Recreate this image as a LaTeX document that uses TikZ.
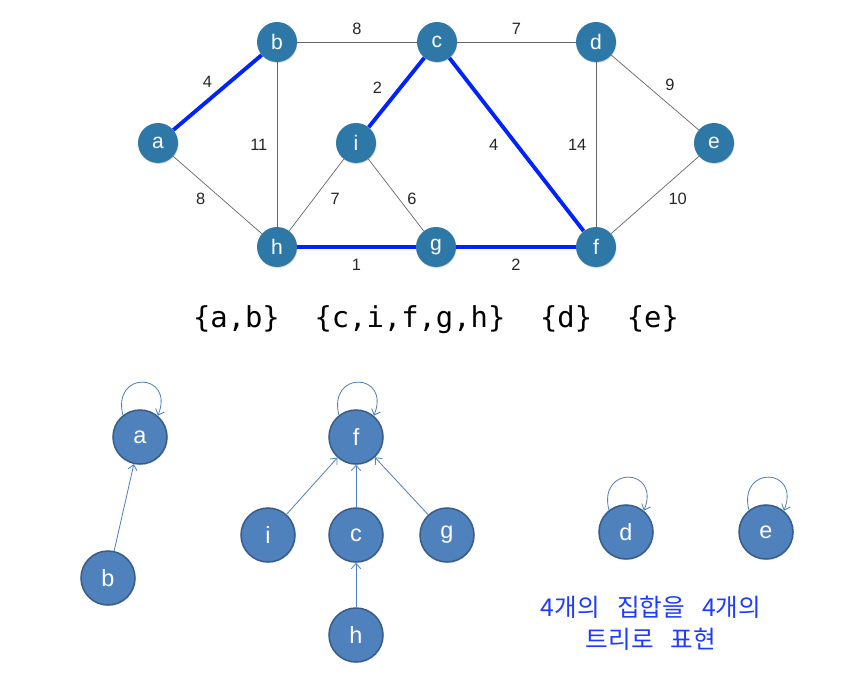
\documentclass[tikz,border=0pt]{standalone}
\usepackage{fontspec}
\setmainfont{Liberation Sans}
\setmonofont{DejaVu Sans Mono}
\newfontfamily\krfont{Noto Sans CJK KR}
\usetikzlibrary{arrows.meta, shadows}
\definecolor{vertexblue}{RGB}{46,120,168}
\definecolor{treefill}{RGB}{79,129,189}
\definecolor{treeline}{RGB}{56,93,138}
\definecolor{mstblue}{RGB}{0,34,255}
\definecolor{noteblue}{RGB}{30,60,255}
\tikzset{
    x=0.03cm, y=0.03cm,       % one unit is one pixel of the picture
    vertex/.style={           % vertices of the weighted graph
        circle,
        inner sep=0pt,
        fill=vertexblue,
        text=white,
        minimum size=1.2cm,
        font=\fontsize{18}{18}\selectfont,
        drop shadow={opacity=0.3, shadow xshift=0.5pt, shadow yshift=-0.8pt}
    },
    treenode/.style={         % vertices of the disjoint-set forest
        circle,
        inner sep=0pt,
        fill=treefill,
        draw=treeline,
        line width=1.3pt,
        text=white,
        minimum size=1.62cm,
        font=\fontsize{20}{20}\selectfont,
        drop shadow={opacity=0.25, shadow xshift=0.6pt, shadow yshift=-1pt}
    },
    light/.style={            % edges not in the tree
        draw=black!60,
        line width=0.6pt
    },
    mst/.style={              % edges of the spanning tree
        draw=mstblue,
        line width=3.3pt
    },
    cost/.style={             % edge weights
        font=\fontsize{14}{14}\selectfont,
        text=black!85,
        inner sep=2pt
    },
    parent/.style={           % pointer to the parent
        draw=treefill,
        line width=0.7pt,
        -{Straight Barb[length=1.6mm, width=2.8mm]}
    },
    note/.style={
        align=center,
        text=noteblue,
        font=\krfont\fontsize{21}{27}\selectfont
    }
}
\newcommand{\selfloop}[1]{% a root points to itself
    \draw[parent] (#1.128) .. controls +(104:1.4cm) and +(68:1.4cm) .. (#1.50);
}
\begin{document}
\begin{tikzpicture}
    \useasboundingbox (0,0) rectangle (848,-680);

    % weighted graph
    \node[vertex] (a) at (158,-143) {a};
    \node[vertex] (b) at (277,-42) {b};
    \node[vertex] (c) at (437,-42) {c};
    \node[vertex] (d) at (596,-42) {d};
    \node[vertex] (e) at (714,-143) {e};
    \node[vertex] (i) at (356,-143) {i};
    \node[vertex] (h) at (277,-247) {h};
    \node[vertex] (g) at (436,-247) {g};
    \node[vertex] (f) at (596,-247) {f};

    \draw (a) edge[mst] node[cost, above left=1pt] {4} (b);
    \draw (b) edge[light] node[cost, above=4pt] {8} (c);
    \draw (c) edge[light] node[cost, above=4pt] {7} (d);
    \draw (d) edge[light] node[cost, pos=0.4, right=14pt] {9} (e);
    \draw (b) edge[light] node[cost, left=6pt] {11} (h);
    \draw (i) edge[mst] node[cost, pos=0.57, left=12pt] {2} (c);
    \draw (c) edge[mst] node[cost, left=12pt] {4} (f);
    \draw (d) edge[light] node[cost, left=6pt] {14} (f);
    \draw (a) edge[light] node[cost, pos=0.55, left=12pt] {8} (h);
    \draw (h) edge[light] node[cost, pos=0.45, right=12pt] {7} (i);
    \draw (i) edge[light] node[cost, pos=0.55, right=5pt] {6} (g);
    \draw (e) edge[light] node[cost, pos=0.55, right=13pt] {10} (f);
    \draw (h) edge[mst] node[cost, below=7pt] {1} (g);
    \draw (g) edge[mst] node[cost, below=7pt] {2} (f);

    \node[font=\ttfamily\fontsize{24.6}{28}\selectfont] (sets) at (436,-320)
        {\{a,b\}~~\{c,i,f,g,h\}~~\{d\}~~\{e\}};

    % one tree for every set
    \node[treenode] (ta) at (140,-437) {a};
    \node[treenode] (tb) at (108,-578) {b};
    \node[treenode] (tf) at (356,-437) {f};
    \node[treenode] (ti) at (268,-535) {i};
    \node[treenode] (tc) at (356,-535) {c};
    \node[treenode] (tg) at (447,-535) {g};
    \node[treenode] (th) at (356,-635) {h};
    \node[treenode] (td) at (626,-532) {d};
    \node[treenode] (te) at (766,-532) {e};

    \selfloop{ta}
    \selfloop{tf}
    \selfloop{td}
    \selfloop{te}
    \draw (tb) edge[parent] (ta);
    \draw (ti) edge[parent] (tf);
    \draw (tc) edge[parent] (tf);
    \draw (tg) edge[parent] (tf);
    \draw (th) edge[parent] (tc);

    \node[note] (caption) at (651,-623)
        {4개의\hspace{0.7em}집합을\hspace{0.7em}4개의\\트리로\hspace{0.7em}표현};
\end{tikzpicture}
\end{document}
